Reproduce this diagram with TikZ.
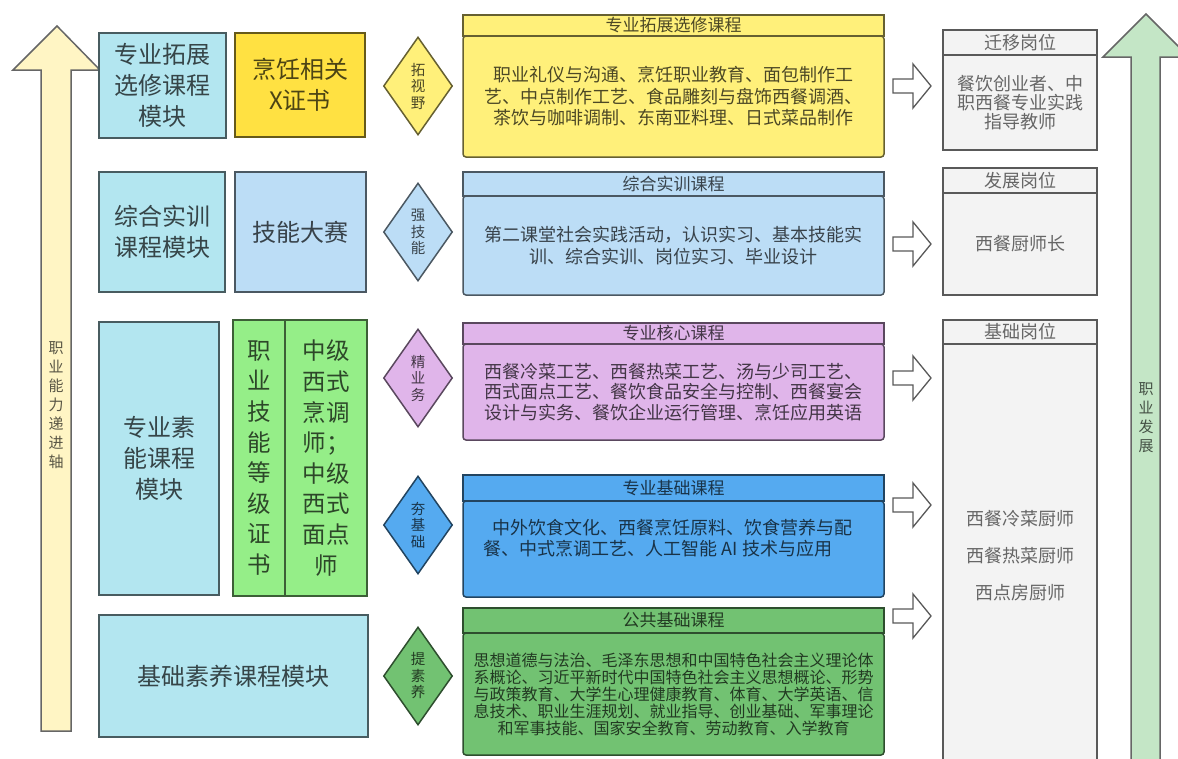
\documentclass[tikz,border=0pt]{standalone}
\usepackage{fontspec}
\setmainfont{Noto Sans CJK SC}
\usepackage{tikz}
\usetikzlibrary{shapes.geometric}

\definecolor{axisyel}{HTML}{FFF5C4}
\definecolor{modcyan}{HTML}{B3E6F0}
\definecolor{certgold}{HTML}{FFE142}
\definecolor{courseyel}{HTML}{FFF07A}
\definecolor{skillblue}{HTML}{BCDDF6}
\definecolor{corepurple}{HTML}{E0B5EA}
\definecolor{basicblue}{HTML}{55AAF0}
\definecolor{certgreen}{HTML}{95EE88}
\definecolor{publicgreen}{HTML}{72C272}
\definecolor{postgray}{HTML}{F3F3F3}
\definecolor{devgreen}{HTML}{C4E6C6}

\begin{document}
\begin{tikzpicture}[x=1pt, y=-1pt, line width=1.5pt,
    tinted/.style={fill=#1, draw=#1!40!black, text=#1!30!black},
    pics/fatarrow/.style={code={
        \draw[draw=black!65, fill=white, line width=1.3pt] (0,-7) -- (20,-7) -- (20,-22) -- (38,0) -- (20,22) -- (20,7) -- (0,7) -- cycle;}}]
    \tikzstyle{box}=[rectangle, draw, inner sep=0pt, align=center]
    \tikzstyle{modfont}=[font=\fontsize{24}{31}\selectfont]
    \tikzstyle{dia}=[diamond, draw, inner sep=0pt, aspect=0.7, minimum width=69pt, minimum height=98pt, align=center, font=\fontsize{14.5}{16.5}\selectfont]
    \tikzstyle{head}=[box, minimum width=421pt, font=\fontsize{17}{18}\selectfont]
    \tikzstyle{body}=[box, rounded corners=3pt, minimum width=421pt, font=\fontsize{18}{21.5}\selectfont]
    \tikzstyle{post}=[box, draw=black!65, fill=postgray, text=black!60, minimum width=154pt, font=\fontsize{18}{19}\selectfont]
    \tikzstyle{vtext}=[align=center, inner sep=0pt, font=\fontsize{15}{19}\selectfont]

    \useasboundingbox (0,0) rectangle (1178,758);

    \draw[fill=axisyel, draw=black!60] (41,731) -- (41,70) -- (13,70) -- (57,26) -- (100,70) -- (71,70) -- (71,731) -- cycle;
    \node[vtext, text=axisyel!35!black] (axis) at (56,405) {职\\业\\能\\力\\递\\进\\轴};
    \draw[fill=devgreen, draw=black!60] (1131,780) -- (1131,57) -- (1103,57) -- (1146,14) -- (1189,57) -- (1160,57) -- (1160,780) -- cycle;
    \node[vtext, text=devgreen!35!black] (dev) at (1146,418) {职\\业\\发\\展};

    \node[box, modfont, tinted=modcyan, minimum width=127pt, minimum height=105pt] (m1) at (162.5,85.5) {专业拓展\\选修课程\\模块};
    \node[box, modfont, tinted=certgold, minimum width=130pt, minimum height=104pt] (x1) at (300,85) {烹饪相关\\X证书};
    \node[dia, tinted=courseyel] (d1) at (418,86) {拓\\视\\野};
    \node[body, tinted=courseyel, minimum height=121pt] (b1) at (673.5,96.5) {职业礼仪与沟通、烹饪职业教育、面包制作工\\艺、中点制作工艺、食品雕刻与盘饰西餐调酒、\\茶饮与咖啡调制、东南亚料理、日式菜品制作};
    \node[head, tinted=courseyel, minimum height=21pt] (h1) at (673.5,25.5) {专业拓展选修课程};
    \pic at (893,86) {fatarrow};
    \node[post, minimum height=95pt] (p1) at (1020,102.5) {餐饮创业者、中\\职西餐专业实践\\指导教师};
    \node[post, minimum height=25pt] (q1) at (1020,42.5) {迁移岗位};

    \node[box, modfont, tinted=modcyan, minimum width=126pt, minimum height=120pt] (m2) at (162,232) {综合实训\\课程模块};
    \node[box, modfont, tinted=skillblue, minimum width=131pt, minimum height=120pt] (x2) at (300.5,232) {技能大赛};
    \node[dia, tinted=skillblue] (d2) at (418,232) {强\\技\\能};
    \node[body, tinted=skillblue, minimum height=99pt] (b2) at (673.5,245.5) {第二课堂社会实践活动，认识实习、基本技能实\\训、综合实训、岗位实习、毕业设计};
    \node[head, tinted=skillblue, minimum height=24pt] (h2) at (673.5,184) {综合实训课程};
    \pic at (893,244) {fatarrow};
    \node[post, minimum height=102pt] (p2) at (1020,244) {西餐厨师长};
    \node[post, minimum height=25pt] (q2) at (1020,180.5) {发展岗位};

    \node[box, modfont, tinted=modcyan, minimum width=120pt, minimum height=273pt] (m3) at (159,458.5) {专业素\\能课程\\模块};
    \node[box, tinted=certgreen, font=\fontsize{23.5}{30.6}\selectfont, minimum width=52pt, minimum height=276pt] (x3) at (259,458) {职\\业\\技\\能\\等\\级\\证\\书};
    \node[box, tinted=certgreen, font=\fontsize{23.5}{30.6}\selectfont, minimum width=82pt, minimum height=276pt] (x4) at (326,458) {中级\\西式\\烹调\\师；\\中级\\西式\\面点\\师};
    \node[dia, tinted=corepurple] (d3) at (418,378) {精\\业\\务};
    \node[dia, tinted=basicblue] (d4) at (418,525) {夯\\基\\础};
    \node[body, tinted=corepurple, font=\fontsize{18}{20.5}\selectfont, minimum height=96pt] (b3) at (673.5,392) {西餐冷菜工艺、西餐热菜工艺、汤与少司工艺、\\西式面点工艺、餐饮食品安全与控制、西餐宴会\\设计与实务、餐饮企业运行管理、烹饪应用英语};
    \node[head, tinted=corepurple, minimum height=21pt] (h3) at (673.5,333.5) {专业核心课程};
    \node[body, tinted=basicblue, minimum height=96pt] (b4) at (673.5,549) {};
    \node[align=left, inner sep=0pt, anchor=west, text=basicblue!30!black, font=\fontsize{18}{20.5}\selectfont] (b4t) at (483,538) {\hspace{9pt}中外饮食文化、西餐烹饪原料、饮食营养与配\\餐、中式烹调工艺、人工智能 AI 技术与应用};
    \node[head, tinted=basicblue, minimum height=26pt] (h4) at (673.5,488) {专业基础课程};
    \pic at (893,378) {fatarrow};
    \pic at (893,505) {fatarrow};
    \pic at (893,616) {fatarrow};
    \node[post, font=\fontsize{18}{37}\selectfont, minimum height=423pt] (p3) at (1020,555.5) {西餐冷菜厨师\\西餐热菜厨师\\西点房厨师};
    \node[post, minimum height=24pt] (q3) at (1020,332) {基础岗位};

    \node[box, modfont, tinted=modcyan, minimum width=269pt, minimum height=122pt] (m5) at (233.5,676) {基础素养课程模块};
    \node[dia, tinted=publicgreen] (d5) at (418,676) {提\\素\\养};
    \node[body, tinted=publicgreen, font=\fontsize{16}{17}\selectfont, minimum height=122pt] (b5) at (673.5,694) {思想道德与法治、毛泽东思想和中国特色社会主义理论体\\系概论、习近平新时代中国特色社会主义思想概论、形势\\与政策教育、大学生心理健康教育、体育、大学英语、信\\息技术、职业生涯规划、就业指导、创业基础、军事理论\\和军事技能、国家安全教育、劳动教育、入学教育};
    \node[head, tinted=publicgreen, minimum height=25pt] (h5) at (673.5,620.5) {公共基础课程};
\end{tikzpicture}
\end{document}
